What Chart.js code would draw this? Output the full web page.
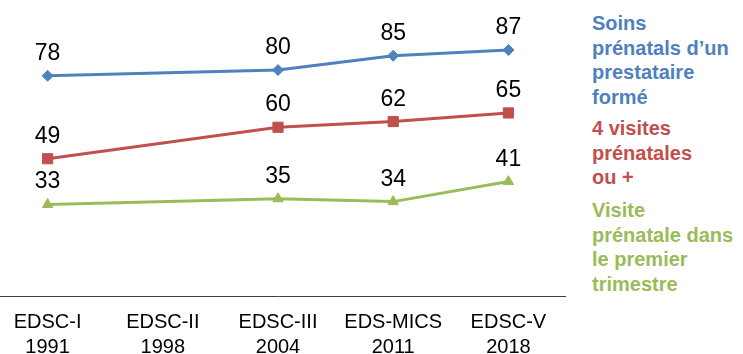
<!DOCTYPE html>
<html lang="fr">
<head>
    <meta charset="UTF-8">
    <title>Soins prénatals</title>
    <script src="https://cdn.jsdelivr.net/npm/chart.js@4.4.0/dist/chart.umd.min.js"></script>
    <style>
        * {
            margin: 0;
            padding: 0;
            box-sizing: border-box;
        }

        body {
            background: #ffffff;
            width: 743px;
            height: 354px;
            overflow: hidden;
            position: relative;
            font-family: Arial, "Liberation Sans", sans-serif;
        }

        .chart-box {
            position: absolute;
            left: -10px;
            top: 0;
            width: 576px;
            height: 374px;
        }

        .legend-item {
            position: absolute;
            left: 592px;
            font-size: 20px;
            font-weight: bold;
            line-height: 24.5px;
            white-space: nowrap;
        }
    </style>
</head>
<body>
    <div class="chart-box">
        <canvas id="ancChart"></canvas>
    </div>

    <div class="legend-item" style="top: 11px; color: #4F81BD;">Soins<br>prénatals d’un<br>prestataire<br>formé</div>
    <div class="legend-item" style="top: 116px; color: #C0504D;">4 visites<br>prénatales<br>ou +</div>
    <div class="legend-item" style="top: 198px; color: #9BBB59;">Visite<br>prénatale dans<br>le premier<br>trimestre</div>

    <script>
        const surveys = ['EDSC-I', 'EDSC-II', 'EDSC-III', 'EDS-MICS', 'EDSC-V'];
        const years = ['1991', '1998', '2004', '2011', '2018'];

        // EDSC-II n'a pas de valeurs
        const soinsPrestataire = [78, null, 80, 85, 87];
        const quatreVisites = [49, null, 60, 62, 65];
        const premierTrimestre = [33, null, 35, 34, 41];

        const labels = surveys.map((s, i) => [s, years[i]]);

        // valeurs au-dessus des points
        const valueLabels = {
            id: 'valueLabels',
            afterDatasetsDraw(chart) {
                const ctx = chart.ctx;
                ctx.save();
                ctx.font = '23px Arial, "Liberation Sans", sans-serif';
                ctx.fillStyle = '#000000';
                ctx.textAlign = 'center';
                ctx.textBaseline = 'alphabetic';
                chart.data.datasets.forEach((ds, i) => {
                    const meta = chart.getDatasetMeta(i);
                    meta.data.forEach((pt, j) => {
                        if (ds.data[j] === null) return;
                        ctx.fillText(ds.data[j], pt.x, pt.y - 16);
                    });
                });
                ctx.restore();
            }
        };

        new Chart(document.getElementById('ancChart'), {
            type: 'line',
            data: {
                labels: labels,
                datasets: [
                    {
                        label: 'Soins prénatals d’un prestataire formé',
                        data: soinsPrestataire,
                        borderColor: '#4F81BD',
                        backgroundColor: '#4F81BD',
                        pointStyle: 'rectRot',
                        pointRadius: 5.5
                    },
                    {
                        label: '4 visites prénatales ou +',
                        data: quatreVisites,
                        borderColor: '#C0504D',
                        backgroundColor: '#C0504D',
                        pointStyle: 'rect',
                        pointRadius: 7.2
                    },
                    {
                        label: 'Visite prénatale dans le premier trimestre',
                        data: premierTrimestre,
                        borderColor: '#9BBB59',
                        backgroundColor: '#9BBB59',
                        pointStyle: 'triangle',
                        pointRadius: 6
                    }
                ]
            },
            options: {
                responsive: true,
                maintainAspectRatio: false,
                animation: false,
                spanGaps: true,
                elements: {
                    line: { borderWidth: 3, tension: 0 },
                    point: { borderWidth: 1 }
                },
                layout: {
                    autoPadding: false,
                    padding: { top: 10, left: 0, right: 0, bottom: 0 }
                },
                plugins: {
                    legend: { display: false },
                    tooltip: { enabled: false }
                },
                scales: {
                    x: {
                        offset: true,
                        grid: { display: false, drawTicks: false },
                        border: { display: true, color: '#404040', width: 1 },
                        ticks: {
                            padding: 14,
                            color: '#000000',
                            maxRotation: 0,
                            autoSkip: false,
                            font: { family: 'Arial, "Liberation Sans", sans-serif', size: 20, lineHeight: 1.25 }
                        }
                    },
                    y: {
                        display: false,
                        min: 1,
                        max: 101
                    }
                }
            },
            plugins: [valueLabels]
        });
    </script>
</body>
</html>
